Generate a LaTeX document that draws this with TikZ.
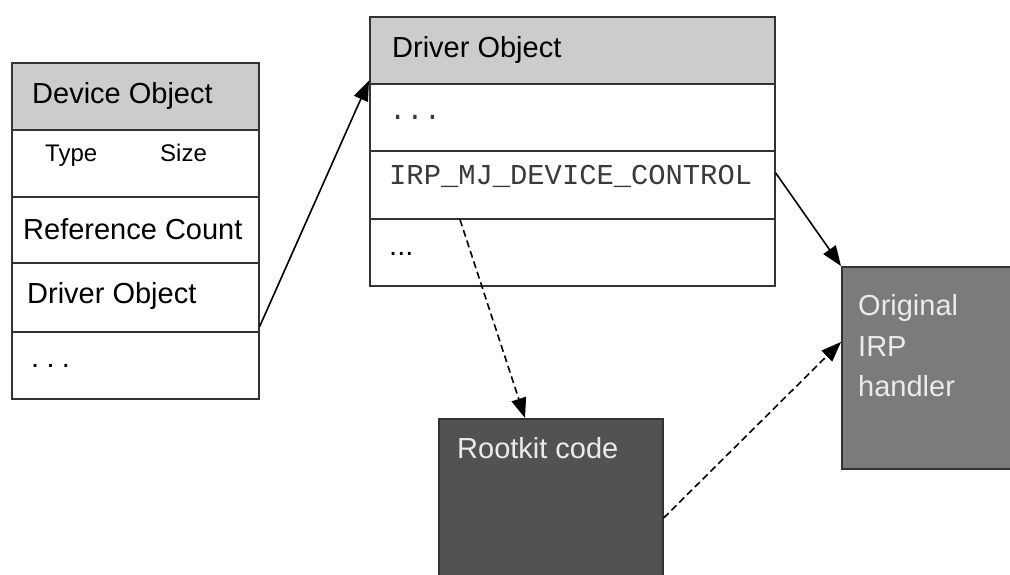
\documentclass[tikz,border=0pt]{standalone}
\usepackage{fontspec}
\setmainfont{Liberation Sans}
\newfontfamily\monofont{Liberation Mono}
\usetikzlibrary{arrows.meta}
\definecolor{hdrgray}{HTML}{CCCCCC}
\definecolor{rootgray}{HTML}{525252}
\definecolor{origgray}{HTML}{7B7B7B}
\definecolor{edgegray}{HTML}{333333}
\definecolor{lighttext}{HTML}{EBEBEB}
\definecolor{monotext}{HTML}{3A3A3A}
\tikzset{
  cell/.style={draw=edgegray, line width=1.6pt, rectangle, inner sep=0pt, anchor=north west},
  txt/.style={anchor=base west, inner sep=0pt, font=\fontsize{29}{35}\selectfont},
  smalltxt/.style={anchor=base west, inner sep=0pt, font=\fontsize{24}{29}\selectfont},
  monotxt/.style={anchor=base west, inner sep=0pt, text=monotext, font=\monofont\fontsize{28.8}{35}\selectfont},
  conn/.style={line width=1.6pt, -{Triangle[length=20pt,width=15pt]}},
  dconn/.style={conn, dash pattern=on 7pt off 4pt}
}
\begin{document}
\begin{tikzpicture}[x=1pt,y=-1pt]
\useasboundingbox (0,0) rectangle (1010,575);
% Device object
\node[cell, fill=hdrgray, minimum width=247pt, minimum height=67pt] (devhead) at (11,62) {};
\node[cell, fill=white, minimum width=247pt, minimum height=67pt] (devtype) at (11,129) {};
\node[cell, fill=white, minimum width=247pt, minimum height=66pt] (devref) at (11,196) {};
\node[cell, fill=white, minimum width=247pt, minimum height=69pt] (devdrv) at (11,262) {};
\node[cell, fill=white, minimum width=247pt, minimum height=67pt] (devdots) at (11,331) {};
\node[txt] (tdevhead) at (32,104) {Device Object};
\node[smalltxt] (ttype) at (45,162) {Type};
\node[smalltxt] (tsize) at (160,162) {Size};
\node[txt] (tref) at (23,240) {Reference Count};
\node[txt] (tdrv) at (27,303) {Driver Object};
\node[txt] (tdots) at (31,367) {.\hspace{0.25em}.\hspace{0.25em}.};
% Driver object
\node[cell, fill=hdrgray, minimum width=405pt, minimum height=67pt] (drvhead) at (369,16) {};
\node[cell, fill=white, minimum width=405pt, minimum height=67pt] (drvdots) at (369,83) {};
\node[cell, fill=white, minimum width=405pt, minimum height=68pt] (irp) at (369,150) {};
\node[cell, fill=white, minimum width=405pt, minimum height=67pt] (drvdotsb) at (369,218) {};
\node[txt] (tdrvhead) at (392,58) {Driver Object};
\node[monotxt] (tdrvdots) at (389,120) {...};
\node[monotxt] (tirp) at (389,185) {IRP\_MJ\_DEVICE\_CONTROL};
\node[txt] (tdrvdotsb) at (389,255) {...};
% Original IRP handler
\node[cell, fill=origgray, minimum width=175pt, minimum height=202pt] (orig) at (841,266) {};
\node[txt, text=lighttext] (torig1) at (858,315) {Original};
\node[txt, text=lighttext] (torig2) at (858,356) {IRP};
\node[txt, text=lighttext] (torig3) at (858,396) {handler};
% Rootkit code
\node[cell, fill=rootgray, minimum width=224pt, minimum height=170pt] (rootkit) at (438,418) {};
\node[txt, text=lighttext] (troot) at (457,458) {Rootkit code};
% connectors
\draw[conn] ([yshift=6pt]devdrv.south east) -- ([yshift=4pt]drvhead.south west);
\draw[conn] ([yshift=12pt]irp.east) -- (orig.north west);
\draw[dconn] ([xshift=91pt]irp.south west) -- ([xshift=87pt]rootkit.north west);
\draw[dconn] ([yshift=-100pt]rootkit.north east) -- ([yshift=-76pt]orig.north west);
\end{tikzpicture}
\end{document}
